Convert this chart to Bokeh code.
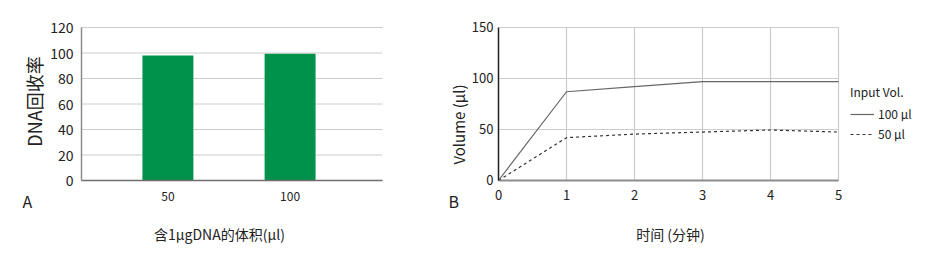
import math
from bokeh.plotting import figure
from bokeh.layouts import row
from bokeh.models import Range1d, FixedTicker, Label, Legend, LegendItem, ColumnDataSource
from bokeh.embed import file_html
from bokeh.resources import INLINE

# ---------- data ----------
volume_categories = ["50", "100"]
recovery_rate = [98, 99.5]

time_min = [0, 1, 2, 3, 4, 5]
vol_100ul = [0, 87, 92, 97, 97, 97]
vol_50ul = [0, 42, 45.5, 47.5, 49.5, 47.5]

a_y_ticks = [0, 20, 40, 60, 80, 100, 120]
b_y_ticks = [0, 50, 100, 150]
b_x_ticks = [0, 1, 2, 3, 4, 5]

FONT = "Noto Sans CJK SC"
TXT = "#222222"
GRID = "#cccccc"


def title_label(p, text, x, y, size, angle=0):
    p.add_layout(Label(x=x, y=y, x_units="screen", y_units="screen", text=text,
                       angle=angle, text_align="center", text_baseline="middle",
                       text_font=FONT, text_font_size=size, text_color=TXT))


def style_axis(ax, size):
    ax.major_tick_line_color = None
    ax.minor_tick_line_color = None
    ax.major_tick_out = 0
    ax.major_tick_in = 0
    ax.major_label_text_font = FONT
    ax.major_label_text_color = TXT
    ax.major_label_text_font_size = size


# ---------- chart A ----------
# plot area spans x in [-0.207, 2.256] and y in [0, 120]; extra room around it for texts
ax_lo, ax_hi = -0.207, 2.256
pA = figure(width=440, height=256, output_backend="svg", toolbar_location=None,
            x_range=Range1d(-0.870, 2.731), y_range=Range1d(-59.61, 141.18),
            min_border=0, min_border_left=0, min_border_right=0,
            min_border_top=0, min_border_bottom=0)
pA.outline_line_color = None
pA.grid.visible = False
# horizontal grid lines limited to the plot area
pA.segment(x0=[ax_lo] * len(a_y_ticks), x1=[ax_hi] * len(a_y_ticks),
           y0=a_y_ticks, y1=a_y_ticks, line_color=GRID, line_width=1, level="underlay")

xpos = [i + 0.5 for i in range(len(volume_categories))]
srcA = ColumnDataSource(dict(x=xpos, top=recovery_rate))
pA.vbar(x="x", top="top", width=0.417, bottom=0, source=srcA, color="#00924a", line_color=None)

pA.yaxis.ticker = FixedTicker(ticks=a_y_ticks)
pA.yaxis.fixed_location = ax_lo
pA.yaxis.bounds = (0, 120)
pA.xaxis.ticker = FixedTicker(ticks=xpos)
pA.xaxis.major_label_overrides = {x: c for x, c in zip(xpos, volume_categories)}
pA.xaxis.fixed_location = 0
pA.xaxis.bounds = (ax_lo, ax_hi)
style_axis(pA.yaxis, "14px")
style_axis(pA.xaxis, "12px")
pA.yaxis.axis_line_color = "#8a8a8a"
pA.yaxis.axis_line_width = 1.5
pA.xaxis.axis_line_color = "#6e6e6e"
pA.xaxis.axis_line_width = 1.5
pA.yaxis.major_label_standoff = 8
pA.xaxis.major_label_standoff = 12

title_label(pA, "DNA回收率", 33, 155, "18px", angle=math.pi / 2)
title_label(pA, "含1μgDNA的体积(μl)", 219, 23, "14px")
pA.add_layout(Label(x=22, y=56, x_units="screen", y_units="screen", text="A",
                    text_baseline="middle", text_font=FONT, text_font_size="16px",
                    text_color=TXT))

# ---------- chart B ----------
pB = figure(width=494, height=256, output_backend="svg", toolbar_location=None,
            x_range=Range1d(-0.8529, 6.4118), y_range=Range1d(-74.51, 176.47),
            min_border=0, min_border_left=0, min_border_right=0,
            min_border_top=0, min_border_bottom=0)
pB.outline_line_color = None
pB.grid.visible = False
x_lo, x_hi = b_x_ticks[0], b_x_ticks[-1]
y_lo, y_hi = b_y_ticks[0], b_y_ticks[-1]
pB.segment(x0=[x_lo] * len(b_y_ticks), x1=[x_hi] * len(b_y_ticks),
           y0=b_y_ticks, y1=b_y_ticks, line_color=GRID, line_width=1.2, level="underlay")
pB.segment(x0=b_x_ticks, x1=b_x_ticks, y0=[y_lo] * len(b_x_ticks), y1=[y_hi] * len(b_x_ticks),
           line_color=GRID, line_width=1.2, level="underlay")

r100 = pB.line(time_min, vol_100ul, line_color="#666666", line_width=1.2)
r50 = pB.line(time_min, vol_50ul, line_color="#333333", line_width=1.2, line_dash="3 3")

pB.xaxis.ticker = FixedTicker(ticks=b_x_ticks)
pB.yaxis.ticker = FixedTicker(ticks=b_y_ticks)
pB.xaxis.fixed_location = 0
pB.yaxis.fixed_location = 0
pB.xaxis.bounds = (x_lo, x_hi)
pB.yaxis.bounds = (y_lo, y_hi)
style_axis(pB.xaxis, "13px")
style_axis(pB.yaxis, "13px")
pB.yaxis.axis_line_color = "#222222"
pB.yaxis.axis_line_width = 1.5
pB.xaxis.axis_line_color = "#8c8c8c"
pB.xaxis.axis_line_width = 2
pB.yaxis.major_label_standoff = 5
pB.xaxis.major_label_standoff = 10

title_label(pB, "Volume (μl)", 18, 132, "15px", angle=math.pi / 2)
title_label(pB, "时间 (分钟)", 230, 23, "14px")
pB.add_layout(Label(x=8, y=56, x_units="screen", y_units="screen", text="B",
                    text_baseline="middle", text_font=FONT, text_font_size="16px",
                    text_color=TXT))

legend = Legend(items=[LegendItem(label="100 μl", renderers=[r100]),
                       LegendItem(label="50 μl", renderers=[r50])],
                title="Input Vol.", location=(410, 114),
                title_text_font=FONT, title_text_font_size="12px", title_text_color=TXT,
                title_text_font_style="normal", title_standoff=5,
                label_text_font=FONT, label_text_font_size="12px", label_text_color=TXT,
                glyph_width=24, glyph_height=16, label_standoff=4, label_height=16,
                spacing=3, padding=4, margin=0,
                border_line_color=None, background_fill_alpha=0)
pB.add_layout(legend)

layout = row(pA, pB)
open("out.html", "w").write(file_html(layout, INLINE))
